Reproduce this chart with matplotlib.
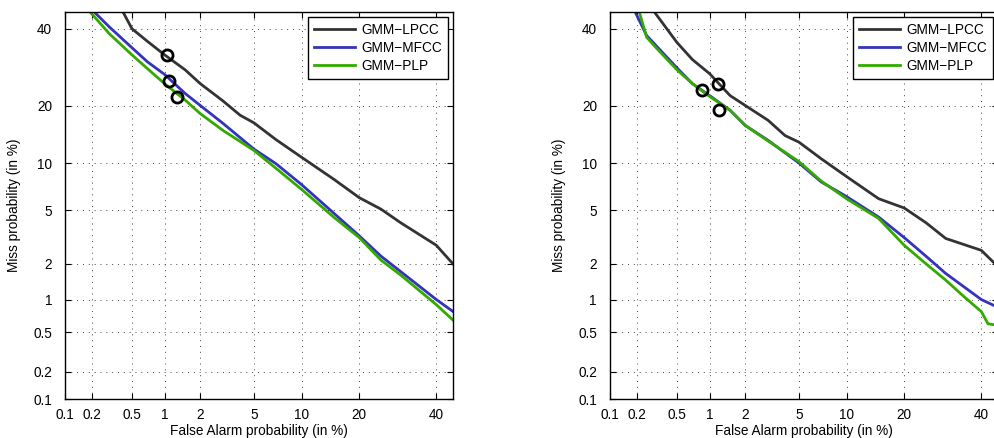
import numpy as np
import math
import matplotlib
matplotlib.use("Agg")
import matplotlib.pyplot as plt

plt.rcParams['font.family'] = ['Liberation Sans', 'DejaVu Sans']

# ---------------- data (percent) ----------------
tick_vals = [0.1, 0.2, 0.5, 1, 2, 5, 10, 20, 40]
tick_labels = ["0.1", "0.2", "0.5", "1", "2", "5", "10", "20", "40"]
series_names = ["GMM\u2212LPCC", "GMM\u2212MFCC", "GMM\u2212PLP"]

# left panel
lpcc_L_fa = [0.41, 0.5, 0.7, 1.0, 1.5, 2.0, 3.0, 4.0, 5.0, 7.0, 10, 15, 20, 25, 30, 40, 45]
lpcc_L_miss = [45, 40, 36.3, 32.5, 28.5, 25, 21, 18, 16.5, 13.5, 10.8, 8.0, 6.1, 5.1, 4.1, 2.8, 2.0]
mfcc_L_fa = [0.21, 0.3, 0.5, 0.7, 1.0, 1.5, 2, 3, 5, 7, 10, 15, 20, 25, 30, 40, 45]
mfcc_L_miss = [45, 40.5, 34.5, 30.6, 27.3, 22.7, 20, 16.4, 12, 9.9, 7.4, 4.8, 3.3, 2.3, 1.73, 1.0, 0.78]
plp_L_fa = [0.19, 0.3, 0.5, 0.7, 1.0, 1.5, 2, 3, 5, 7, 10, 15, 20, 25, 30, 40, 45]
plp_L_miss = [45, 38.5, 32.5, 28.8, 25, 21.2, 18.3, 15.1, 11.8, 9.3, 6.9, 4.5, 3.2, 2.14, 1.62, 0.9, 0.65]
mark_L_fa = [1.04, 1.1, 1.28]
mark_L_miss = [32.4, 25.7, 21.9]

# right panel
lpcc_R_fa = [0.3, 0.5, 0.7, 1.0, 1.5, 2, 3, 4, 5, 7, 10, 15, 20, 25, 30, 40, 45]
lpcc_R_miss = [45, 36, 31.2, 27.5, 22.2, 20, 17, 14.2, 13.1, 10.6, 8.3, 6.0, 5.2, 4.1, 3.15, 2.56, 1.9]
mfcc_R_fa = [0.19, 0.25, 0.3, 0.5, 0.7, 1.0, 1.5, 2, 3, 5, 7, 10, 15, 20, 25, 30, 40, 45]
mfcc_R_miss = [45, 38, 35.6, 29, 25, 22.2, 19, 16, 13.4, 10, 7.7, 6.2, 4.5, 3.2, 2.3, 1.67, 1.0, 0.85]
plp_R_fa = [0.21, 0.25, 0.3, 0.5, 0.7, 1, 1.5, 2, 3, 5, 7, 10, 15, 20, 25, 30, 35, 40, 42, 45]
plp_R_miss = [45, 37.5, 35, 28.5, 25, 22, 19, 16, 13.3, 10.2, 7.8, 6.0, 4.4, 2.8, 2.0, 1.47, 1.06, 0.78, 0.6, 0.58]
mark_R_fa = [1.19, 0.86, 1.2]
mark_R_miss = [24.9, 23.4, 19.0]

colors = ["#333333", "#3333bb", "#33aa00"]

# ---------------- probit scale ----------------
def _ppf(p):
    p = np.clip(np.asarray(p, dtype=float), 1e-9, 1 - 1e-9)
    a = [-3.969683028665376e+01, 2.209460984245205e+02, -2.759285104469687e+02,
         1.383577518672690e+02, -3.066479806614716e+01, 2.506628277459239e+00]
    b = [-5.447609879822406e+01, 1.615858368580409e+02, -1.556989798598866e+02,
         6.680131188771972e+01, -1.328068155288572e+01]
    c = [-7.784894002430293e-03, -3.223964580411365e-01, -2.400758277161838e+00,
         -2.549732539343734e+00, 4.374664141464968e+00, 2.938163982698783e+00]
    d = [7.784695709041462e-03, 3.224671290700398e-01, 2.445134137142996e+00,
         3.754408661907416e+00]
    plow = 0.02425
    out = np.empty_like(p)
    lo = p < plow
    hi = p > 1 - plow
    mid = ~(lo | hi)
    q = np.sqrt(-2 * np.log(p[lo]))
    out[lo] = (((((c[0]*q+c[1])*q+c[2])*q+c[3])*q+c[4])*q+c[5]) / ((((d[0]*q+d[1])*q+d[2])*q+d[3])*q+1)
    q = p[mid] - 0.5
    r = q * q
    out[mid] = (((((a[0]*r+a[1])*r+a[2])*r+a[3])*r+a[4])*r+a[5])*q / (((((b[0]*r+b[1])*r+b[2])*r+b[3])*r+b[4])*r+1)
    q = np.sqrt(-2 * np.log(1 - p[hi]))
    out[hi] = -(((((c[0]*q+c[1])*q+c[2])*q+c[3])*q+c[4])*q+c[5]) / ((((d[0]*q+d[1])*q+d[2])*q+d[3])*q+1)
    return out

_erf = np.vectorize(math.erf)

def fwd(x):
    return _ppf(np.asarray(x, dtype=float) / 100.0)

def inv(z):
    z = np.asarray(z, dtype=float)
    return 50.0 * (1 + _erf(z / math.sqrt(2)))

W, H = 994, 438
fig = plt.figure(figsize=(W / 100, H / 100), dpi=100)
FS = 9.8

def make_ax(left_px, data, marks):
    ax = fig.add_axes([left_px / W, (H - 399.3) / H, 388.5 / W, 387.3 / H])
    ax.set_xscale('function', functions=(fwd, inv))
    ax.set_yscale('function', functions=(fwd, inv))
    for (fa, miss), col, name in zip(data, colors, series_names):
        ax.plot(fa, miss, color=col, lw=2.0, label=name)
    for fa, miss in zip(*marks):
        ax.plot([fa], [miss], 'o', ms=8, mfc='none', mec='black', mew=2.0)
    ax.set_xlim(0.1, 45)
    ax.set_ylim(0.1, 45)
    ax.set_xticks(tick_vals)
    ax.set_xticklabels(tick_labels)
    ax.set_yticks(tick_vals)
    ax.set_yticklabels(tick_labels)
    ax.minorticks_off()
    ax.grid(True, color='#444444', linestyle=(0, (1, 5)), linewidth=0.7)
    ax.tick_params(direction='in', top=True, right=True, length=4, labelsize=FS)
    ax.tick_params(axis='x', pad=6)
    ax.tick_params(axis='y', pad=9)
    for s in ax.spines.values():
        s.set_linewidth(1.0)
    ax.set_xlabel("False Alarm probability (in %)", fontsize=FS, labelpad=2)
    ax.set_ylabel("Miss probability (in %)", fontsize=FS, labelpad=9)
    leg = ax.legend(loc='upper right', fontsize=FS, frameon=True, fancybox=False,
                    edgecolor='black', framealpha=1, handlelength=3.0, handletextpad=0.5,
                    labelspacing=0.3, borderaxespad=0.4, borderpad=0.4)
    leg.get_frame().set_linewidth(1.0)
    return ax

make_ax(64.5, [(lpcc_L_fa, lpcc_L_miss), (mfcc_L_fa, mfcc_L_miss), (plp_L_fa, plp_L_miss)],
        (mark_L_fa, mark_L_miss))
make_ax(609.5, [(lpcc_R_fa, lpcc_R_miss), (mfcc_R_fa, mfcc_R_miss), (plp_R_fa, plp_R_miss)],
        (mark_R_fa, mark_R_miss))

fig.savefig("out.png", dpi=100)
